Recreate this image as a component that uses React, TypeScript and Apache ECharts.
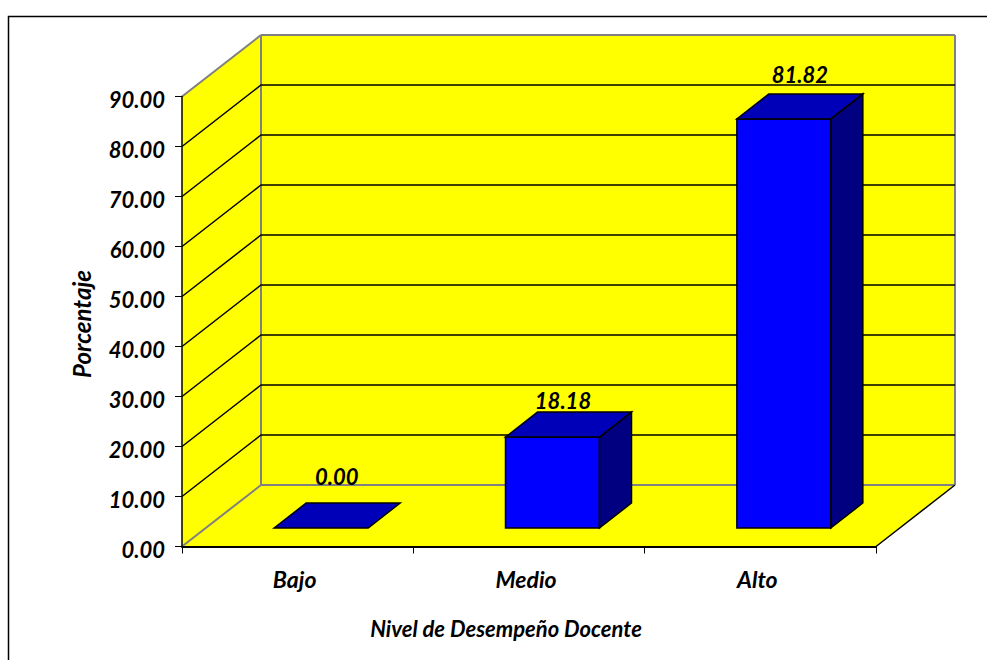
import React, { useEffect, useRef } from "react";
import * as echarts from "echarts";

const categories = ["Bajo", "Medio", "Alto"];
const values = [0.0, 18.18, 81.82];
const gridValues = [10, 20, 30, 40, 50, 60, 70, 80];
const yMax = 90;
const labelShiftX = [15.5, 10.5, 16];
const labelShiftY = [-27, -12, -19];

const DX = 79;
const DY = -61.5;
const FONT = "Lato, Carlito, sans-serif";

export default function App() {
  const ref = useRef<HTMLDivElement>(null);
  useEffect(() => {
    const chart = echarts.init(ref.current!, null, { renderer: "svg" });
    const edge = { stroke: "#808080", lineWidth: 2 };
    // left and right ends of the category band, in pixels
    const ends = (api: any) => {
      const band = api.size([1, 0])[0];
      return [api.coord([0, 0])[0] - band / 2, api.coord([categories.length - 1, 0])[0] + band / 2];
    };
    chart.setOption({
      animation: false,
      backgroundColor: "#ffffff",
      textStyle: { fontFamily: FONT },
      graphic: [
        {
          type: "polyline",
          z: 100,
          shape: { points: [[8.5, 660], [8.5, 16.5], [987, 16.5]] },
          style: { stroke: "#000000", lineWidth: 1.5, fill: "none" },
        },
      ],
      grid: { left: 182, top: 96.5, width: 694, height: 450, containLabel: false },
      xAxis: {
        type: "category",
        data: categories,
        z: 20,
        name: "Nivel de Desempeño Docente",
        nameLocation: "middle",
        nameGap: 71,
        nameTextStyle: {
          fontFamily: FONT, fontSize: 22, fontWeight: "bold", fontStyle: "italic", color: "#000",
          padding: [0, 46, 0, 0],
        },
        axisLine: { show: true, lineStyle: { color: "#000", width: 2 } },
        axisTick: { show: true, length: 7, lineStyle: { color: "#000", width: 1 } },
        axisLabel: {
          margin: 21, fontFamily: FONT, fontSize: 23, fontWeight: "bold", fontStyle: "italic", color: "#000",
          padding: [0, 6, 0, 0],
        },
        splitLine: { show: false },
      },
      yAxis: {
        type: "value",
        min: 0,
        max: yMax,
        interval: 10,
        z: 20,
        name: "Porcentaje",
        nameLocation: "middle",
        nameGap: 89,
        nameRotate: 90,
        nameTextStyle: {
          fontFamily: FONT, fontSize: 24, fontWeight: "bold", fontStyle: "italic", color: "#000",
          padding: [0, 5, 0, 0],
        },
        axisLine: { show: true, onZero: false, lineStyle: { color: "#000", width: 1.5 } },
        axisTick: { show: true, length: 7, lineStyle: { color: "#000", width: 1 } },
        axisLabel: {
          margin: 17,
          fontFamily: FONT,
          fontSize: 22,
          fontWeight: "bold",
          fontStyle: "italic",
          color: "#000",
          verticalAlign: "top",
          lineHeight: 5,
          formatter: (v: number) => v.toFixed(2),
        },
        splitLine: { show: false },
      },
      series: [
        {
          type: "custom",
          name: "walls",
          z: 2,
          silent: true,
          clip: false,
          data: [[0]],
          renderItem: (_p: any, api: any) => {
            const [xL, xR] = ends(api);
            const y0 = api.coord([0, 0])[1];
            const yT = api.coord([0, yMax])[1];
            const wall = [[xL + DX, y0 + DY], [xR + DX, y0 + DY], [xR + DX, yT + DY], [xL + DX, yT + DY]];
            const side = [[xL, y0], [xL + DX, y0 + DY], [xL + DX, yT + DY], [xL, yT]];
            const floor = [[xL, y0], [xR, y0], [xR + DX, y0 + DY], [xL + DX, y0 + DY]];
            const yellow = { fill: "#ffff00", stroke: "none" };
            const line = (a: number[], b: number[], style: any) => ({
              type: "line",
              shape: { x1: a[0], y1: a[1], x2: b[0], y2: b[1] },
              style,
            });
            return {
              type: "group",
              children: [
                { type: "polygon", shape: { points: wall }, style: yellow },
                { type: "polygon", shape: { points: side }, style: yellow },
                { type: "polygon", shape: { points: floor }, style: yellow },
                line(wall[0], wall[1], edge),
                line(wall[1], wall[2], edge),
                line(wall[2], wall[3], edge),
                line(wall[3], wall[0], edge),
                line(side[3], side[2], edge),
                line(side[0], side[1], edge),
                line(floor[1], floor[2], { stroke: "#000", lineWidth: 1.5 }),
              ],
            };
          },
        },
        {
          type: "custom",
          name: "grid",
          z: 3,
          silent: true,
          clip: false,
          data: gridValues.map((v) => [0, v]),
          encode: { x: 0, y: 1 },
          renderItem: (_p: any, api: any) => {
            const [xL, xR] = ends(api);
            const y = api.coord([0, api.value(1)])[1];
            return {
              type: "polyline",
              shape: { points: [[xL, y], [xL + DX, y + DY], [xR + DX, y + DY]] },
              style: { stroke: "#000", lineWidth: 1.5, fill: "none" },
            };
          },
        },
        {
          type: "custom",
          name: "Porcentaje",
          z: 5,
          clip: false,
          data: values.map((v, i) => [i, v]),
          encode: { x: 0, y: 1 },
          renderItem: (_p: any, api: any) => {
            const i = api.value(0);
            const v = api.value(1);
            const hw = 47;
            const ox = 23.5;
            const oy = -18.5;
            const dx = 32;
            const dy = -25;
            const c0 = api.coord([i, 0]);
            const c1 = api.coord([i, v]);
            const cx = c0[0] + ox;
            const L = cx - hw;
            const R = cx + hw;
            const B = c0[1] + oy;
            const T = c1[1] + oy;
            const style = (fill: string) => ({ fill, stroke: "#000", lineWidth: 1.5, lineJoin: "miter" });
            const children: any[] = [];
            if (v > 0) {
              children.push({
                type: "polygon",
                shape: { points: [[L, B], [R, B], [R, T], [L, T]] },
                style: style("#0000ff"),
              });
              children.push({
                type: "polygon",
                shape: { points: [[R, B], [R + dx, B + dy], [R + dx, T + dy], [R, T]] },
                style: style("#000080"),
              });
            }
            children.push({
              type: "polygon",
              shape: { points: [[L, T], [R, T], [R + dx, T + dy], [L + dx, T + dy]] },
              style: style("#0000b8"),
            });
            children.push({
              type: "text",
              style: {
                text: v.toFixed(2),
                x: cx + labelShiftX[i],
                y: T + dy + labelShiftY[i],
                align: "center",
                verticalAlign: "middle",
                fontFamily: FONT,
                fontSize: 22,
                fontWeight: "bold",
                fontStyle: "italic",
                fill: "#000",
              },
            });
            return { type: "group", children };
          },
        },
      ],
    });
    return () => chart.dispose();
  }, []);
  return <div ref={ref} style={{ position: "fixed", left: 0, top: 0, width: 987, height: 660 }} />;
}
